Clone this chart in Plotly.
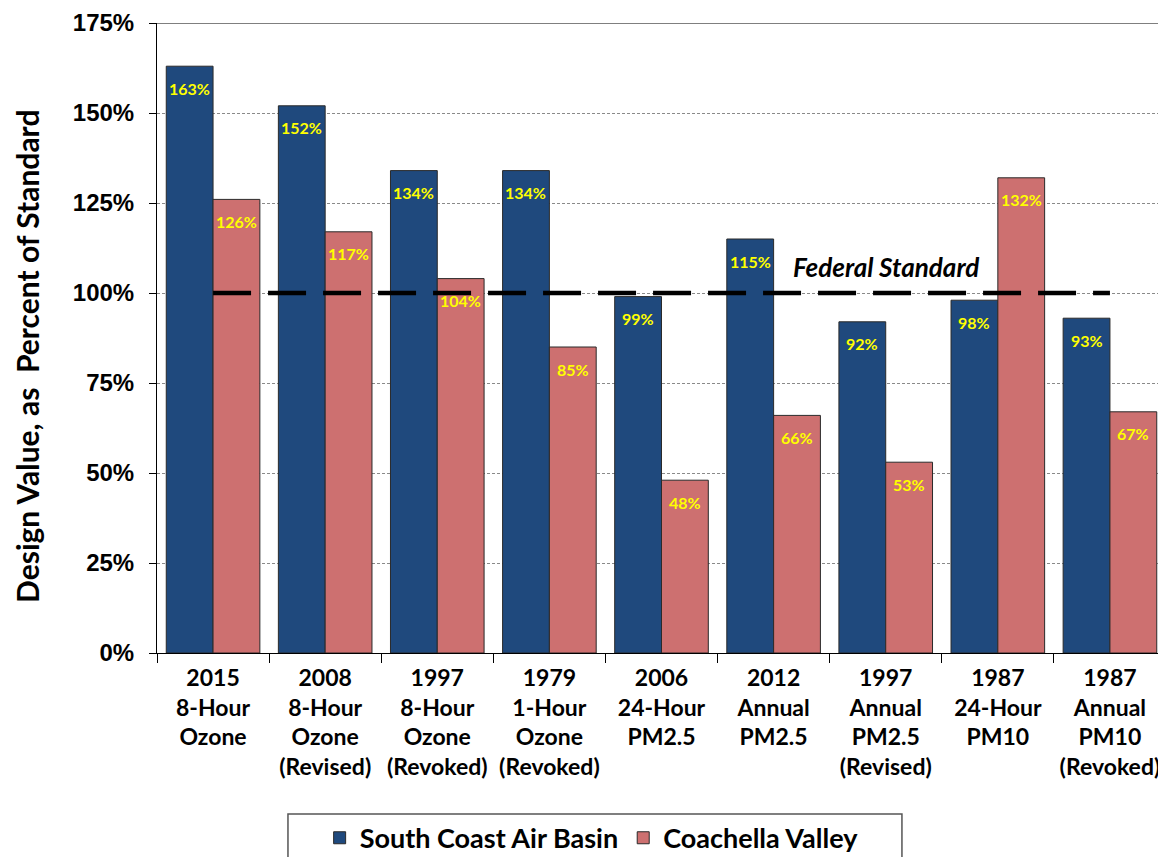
import plotly.graph_objects as go

categories = [
    "2015<br>8-Hour<br>Ozone",
    "2008<br>8-Hour<br>Ozone<br>(Revised)",
    "1997<br>8-Hour<br>Ozone<br>(Revoked)",
    "1979<br>1-Hour<br>Ozone<br>(Revoked)",
    "2006<br>24-Hour<br>PM2.5",
    "2012<br>Annual<br>PM2.5",
    "1997<br>Annual<br>PM2.5<br>(Revised)",
    "1987<br>24-Hour<br>PM10",
    "1987<br>Annual<br>PM10<br>(Revoked)",
]
south_coast = [163, 152, 134, 134, 99, 115, 92, 98, 93]
coachella = [126, 117, 104, 85, 48, 66, 53, 132, 67]
federal_standard = [100] * len(categories)
y_ticks = [0, 25, 50, 75, 100, 125, 150, 175]

BLUE = "#1F497D"
PINK = "#CD7070"
LABEL_FONT = "Lato"

# layout constants (the page body adds an 8px offset)
FIG_W, FIG_H = 1158, 849
M_L, M_R, M_T, M_B = 149, 0, 15, 204
BARGAP = 0.165
plot_w = FIG_W - M_L - M_R
cat_px = plot_w / len(categories)
bar_px = cat_px * (1 - BARGAP) / 2

fig = go.Figure()

for name, vals, color in [("South Coast Air Basin", south_coast, BLUE),
                          ("Coachella Valley", coachella, PINK)]:
    fig.add_trace(go.Bar(
        name=name, x=categories, y=vals,
        marker=dict(color=color, line=dict(color="#2a2a2a", width=1)),
    ))

fig.add_trace(go.Scatter(
    x=categories, y=federal_standard, mode="lines", showlegend=False,
    line=dict(color="black", width=4.5, dash="38px,17px"), hoverinfo="skip",
))

# value labels inside the bars, just below the top
for i, cat in enumerate(categories):
    for vals, side in ((south_coast, -1), (coachella, 1)):
        fig.add_annotation(
            x=cat, y=vals[i], xref="x", yref="y", text="%d%%" % vals[i],
            showarrow=False, xshift=side * bar_px / 2, yshift=-22,
            font=dict(color="#FFFF00", size=16, family=LABEL_FONT, weight="bold"),
        )

fig.add_annotation(
    x=categories[6], y=100, xref="x", yref="y", text="<i>Federal Standard</i>",
    showarrow=False, yanchor="bottom", yshift=8, xshift=0,
    font=dict(family=LABEL_FONT, size=26, color="black", weight="bold"),
)

# y-axis title
fig.add_annotation(
    x=-0.1288, y=0.47, xref="paper", yref="paper", text="Design Value, as  Percent of Standard",
    textangle=-90, showarrow=False, xanchor="center", yanchor="middle",
    font=dict(family=LABEL_FONT, size=30, color="black", weight="bold"),
)

fig.update_layout(
    width=FIG_W, height=FIG_H,
    margin=dict(l=M_L, r=M_R, t=M_T, b=M_B),
    paper_bgcolor="white", plot_bgcolor="white",
    barmode="group", bargap=BARGAP, bargroupgap=0,
    showlegend=True,
    legend=dict(
        orientation="h", xref="container", yref="container",
        x=0.504, xanchor="center", y=0.051, yanchor="top",
        borderwidth=0, bgcolor="rgba(0,0,0,0)",
        font=dict(family=LABEL_FONT, size=27, color="black", weight="bold"),
        traceorder="normal",
    ),
    xaxis=dict(
        automargin=False,
        showline=True, linecolor="black", linewidth=1, mirror=False,
        ticks="outside", tickson="boundaries", ticklen=9, tickcolor="black",
        tickfont=dict(family=LABEL_FONT, size=23, color="black", weight="bold"),
        ticklabelstandoff=4,
    ),
    yaxis=dict(
        automargin=False,
        range=[0, 175], tickvals=y_ticks, ticktext=["%d%%" % v for v in y_ticks],
        showline=True, linecolor="black", linewidth=1,
        ticks="outside", ticklen=7, tickcolor="black",
        tickfont=dict(family="Liberation Sans", size=24, color="black", weight="bold"),
        ticklabelstandoff=10,
        showgrid=True, gridcolor="#8a8a8a", gridwidth=1, griddash="3px,2px",
        zeroline=False,
    ),
)
# top frame line
fig.add_shape(type="line", xref="paper", yref="y", x0=0, x1=1, y0=175, y1=175,
              line=dict(color="black", width=1))
# legend frame
fig.add_shape(type="rect", xref="paper", yref="paper", x0=0.1298, x1=0.7383,
              y0=-0.2556, y1=-0.36, line=dict(color="#555555", width=1.5),
              fillcolor="rgba(0,0,0,0)")

fig.write_html("out.html")
